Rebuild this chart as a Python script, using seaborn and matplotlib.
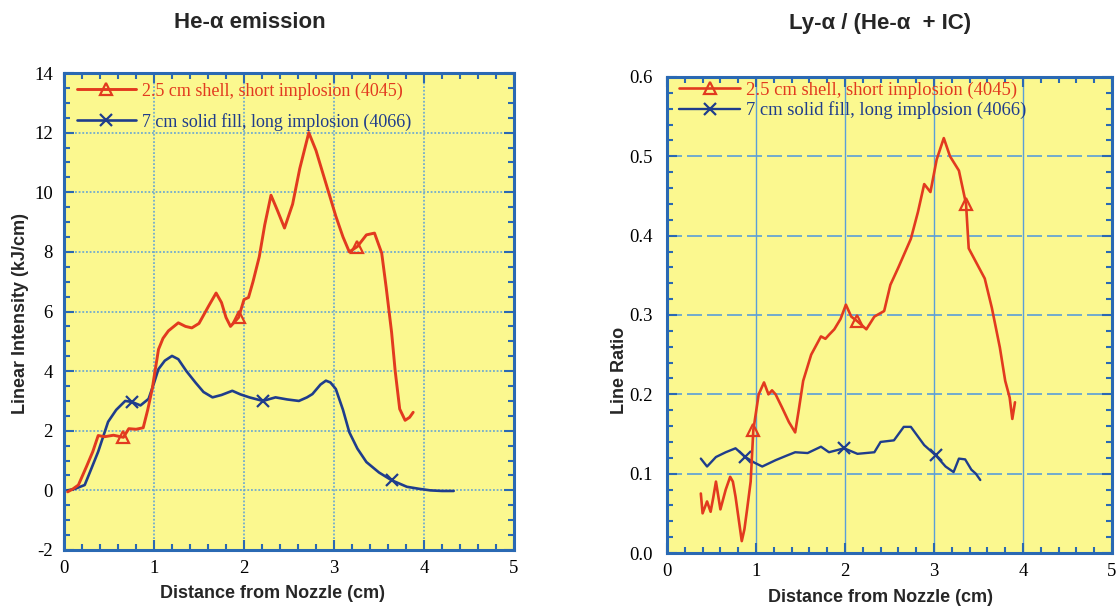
import numpy as np
import pandas as pd
import matplotlib
matplotlib.use("Agg")
import matplotlib.pyplot as plt
from matplotlib.ticker import MultipleLocator
import seaborn as sns

# ---------------- data ----------------
# He-alpha emission (left panel)
he_red_x = [0.04, 0.10, 0.16, 0.25, 0.32, 0.38, 0.45, 0.55, 0.66, 0.72, 0.80, 0.88, 0.93, 0.98,
            1.05, 1.10, 1.16, 1.27, 1.35, 1.42, 1.50, 1.61, 1.69, 1.75, 1.80, 1.85, 1.94, 2.00,
            2.05, 2.10, 2.17, 2.23, 2.30, 2.37, 2.45, 2.54, 2.62, 2.72, 2.80, 2.91, 3.02, 3.10,
            3.17, 3.26, 3.36, 3.45, 3.53, 3.58, 3.64, 3.68, 3.73, 3.79, 3.84, 3.88]
he_red_y = [-0.05, 0.05, 0.18, 0.80, 1.30, 1.84, 1.80, 1.85, 1.78, 2.07, 2.05, 2.10, 2.70, 3.40,
            4.73, 5.10, 5.35, 5.62, 5.50, 5.45, 5.60, 6.20, 6.62, 6.30, 5.80, 5.50, 5.80, 6.40,
            6.47, 7.00, 7.84, 8.90, 9.90, 9.40, 8.80, 9.60, 10.8, 12.0, 11.4, 10.3, 9.20, 8.50,
            8.00, 8.18, 8.57, 8.63, 7.96, 6.80, 5.30, 4.00, 2.73, 2.35, 2.45, 2.62]
he_red_markers = [0.66, 1.94, 3.26]

he_blue_x = [0.04, 0.12, 0.23, 0.30, 0.38, 0.49, 0.58, 0.68, 0.75, 0.85, 0.94, 1.00, 1.05, 1.12,
             1.20, 1.27, 1.36, 1.46, 1.55, 1.65, 1.75, 1.87, 1.96, 2.06, 2.21, 2.35, 2.48, 2.61,
             2.70, 2.76, 2.85, 2.91, 2.96, 3.02, 3.10, 3.17, 3.26, 3.36, 3.50, 3.64, 3.81, 3.95,
             4.07, 4.20, 4.33]
he_blue_y = [0.00, 0.05, 0.18, 0.70, 1.30, 2.30, 2.70, 3.00, 2.97, 2.85, 3.07, 3.60, 4.07, 4.35,
             4.51, 4.40, 4.00, 3.62, 3.30, 3.12, 3.20, 3.34, 3.22, 3.12, 3.00, 3.12, 3.05, 3.00,
             3.12, 3.23, 3.55, 3.68, 3.62, 3.40, 2.70, 1.95, 1.40, 0.95, 0.60, 0.34, 0.12, 0.05,
             0.00, -0.02, -0.02]
he_blue_markers = [0.75, 2.21, 3.64]

# Line ratio (right panel)
lr_red_x = [0.38, 0.40, 0.45, 0.49, 0.52, 0.55, 0.60, 0.66, 0.71, 0.74, 0.77, 0.84, 0.87, 0.90,
            0.94, 0.97, 1.03, 1.09, 1.14, 1.18, 1.22, 1.29, 1.37, 1.44, 1.48, 1.53, 1.62, 1.73,
            1.78, 1.82, 1.88, 1.95, 2.01, 2.07, 2.14, 2.24, 2.33, 2.44, 2.51, 2.60, 2.74, 2.82,
            2.89, 2.96, 3.03, 3.11, 3.18, 3.28, 3.36, 3.39, 3.48, 3.57, 3.65, 3.74, 3.80, 3.85,
            3.88, 3.91]
lr_red_y = [0.075, 0.050, 0.065, 0.052, 0.070, 0.090, 0.055, 0.080, 0.096, 0.090, 0.071, 0.015,
            0.030, 0.055, 0.090, 0.155, 0.200, 0.215, 0.200, 0.205, 0.200, 0.184, 0.165, 0.152,
            0.180, 0.217, 0.250, 0.273, 0.270, 0.275, 0.282, 0.295, 0.313, 0.298, 0.292, 0.282,
            0.298, 0.305, 0.338, 0.360, 0.396, 0.430, 0.465, 0.455, 0.496, 0.523, 0.500, 0.482,
            0.440, 0.384, 0.365, 0.346, 0.309, 0.259, 0.217, 0.196, 0.169, 0.190]
lr_red_markers = [0.97, 2.14, 3.36]

lr_blue_x = [0.38, 0.45, 0.55, 0.66, 0.77, 0.88, 0.98, 1.07, 1.22, 1.35, 1.44, 1.58, 1.73, 1.82,
             1.99, 2.14, 2.33, 2.40, 2.55, 2.66, 2.74, 2.89, 3.02, 3.13, 3.22, 3.28, 3.35, 3.42,
             3.47, 3.52]
lr_blue_y = [0.119, 0.109, 0.121, 0.127, 0.132, 0.121, 0.114, 0.109, 0.117, 0.123, 0.127, 0.126,
             0.134, 0.127, 0.132, 0.125, 0.127, 0.140, 0.142, 0.159, 0.159, 0.136, 0.123, 0.109,
             0.102, 0.119, 0.118, 0.105, 0.100, 0.092]
lr_blue_markers = [0.88, 1.99, 3.02]

label_red = "2.5 cm shell, short implosion (4045)"
label_blue = "7 cm solid fill, long implosion (4066)"

# ---------------- style ----------------
RED = "#e23a1f"
BLUE = "#1f3d8c"
SPINE = "#2a69b3"
YELLOW = "#fbf88f"
GRID = "#5a9fd8"

sns.set_style("ticks")
plt.rcParams["font.family"] = ["Liberation Serif", "DejaVu Serif"]
plt.rcParams["axes.unicode_minus"] = False
SANS = ["Liberation Sans", "DejaVu Sans"]

fig = plt.figure(figsize=(11.16, 6.11), dpi=100)
axL = fig.add_axes([64 / 1116, 1 - 550 / 611, 450 / 1116, 477 / 611])
axR = fig.add_axes([667 / 1116, 1 - 553 / 611, 445 / 1116, 476 / 611])


def idx_of(xs, marks):
    arr = np.asarray(xs)
    return [int(np.argmin(np.abs(arr - m))) for m in marks]


def draw(ax, rx, ry, rm, bx, by, bm, lw_r, lw_b):
    dr = pd.DataFrame({"x": rx, "y": ry})
    db = pd.DataFrame({"x": bx, "y": by})
    sns.lineplot(data=dr, x="x", y="y", ax=ax, color=RED, lw=lw_r, sort=False,
                 estimator=None, marker="^", markevery=idx_of(rx, rm), ms=8,
                 mfc="none", mec=RED, mew=1.6, label=label_red, zorder=4)
    sns.lineplot(data=db, x="x", y="y", ax=ax, color=BLUE, lw=lw_b, sort=False,
                 estimator=None, marker="x", markevery=idx_of(bx, bm), ms=9,
                 mec=BLUE, mew=1.6, label=label_blue, zorder=3)


draw(axL, he_red_x, he_red_y, he_red_markers, he_blue_x, he_blue_y, he_blue_markers, 2.1, 1.9)
draw(axR, lr_red_x, lr_red_y, lr_red_markers, lr_blue_x, lr_blue_y, lr_blue_markers, 1.9, 1.7)

for ax in (axL, axR):
    ax.set_facecolor(YELLOW)
    ax.set_xlim(0, 5)
    ax.xaxis.set_major_locator(MultipleLocator(1))
    ax.xaxis.set_minor_locator(MultipleLocator(0.2))
    for s in ax.spines.values():
        s.set_color(SPINE)
        s.set_linewidth(2.2)
        s.set_visible(True)
    ax.tick_params(which="both", direction="in", top=True, right=True,
                   color=SPINE, width=1.5, labelsize=13.5, labelcolor="black")
    ax.tick_params(which="major", length=7)
    ax.tick_params(which="minor", length=4)
    ax.tick_params(axis="x", pad=7)
    ax.set_xlabel("")
    ax.set_ylabel("")
    ax.set_axisbelow(True)

# left axes specifics
axL.set_ylim(-2, 14)
axL.yaxis.set_major_locator(MultipleLocator(2))
axL.yaxis.set_minor_locator(MultipleLocator(0.5))
axL.tick_params(axis="y", pad=8)
axL.grid(True, which="major", color=GRID, ls=(0, (1.2, 1.2)), lw=1.1)

# right axes specifics
axR.set_ylim(0, 0.6)
axR.yaxis.set_major_locator(MultipleLocator(0.1))
axR.yaxis.set_minor_locator(MultipleLocator(0.02))
axR.yaxis.set_major_formatter(matplotlib.ticker.FormatStrFormatter("%.1f"))
axR.tick_params(axis="y", pad=10)
axR.xaxis.grid(True, which="major", color=GRID, ls="-", lw=1.0)
axR.yaxis.grid(True, which="major", color=GRID, ls=(0, (9, 3)), lw=1.2)

# legends
for ax, anchor, spacing, fs in ((axL, (0.028, 0.98), 0.72, 13.0),
                                (axR, (0.027, 0.99), 0.12, 13.4)):
    leg = ax.legend(loc="upper left", bbox_to_anchor=anchor, frameon=False,
                    fontsize=fs, handlelength=3.3, handletextpad=0.3,
                    labelspacing=spacing, borderpad=0, borderaxespad=0, numpoints=1)
    for txt, col in zip(leg.get_texts(), (RED, BLUE)):
        txt.set_color(col)

# titles and labels
fig.text(250 / 1116, 1 - 22 / 611, "He-α emission", ha="center", va="center",
         fontsize=16, fontweight="bold", family=SANS)
fig.text(880 / 1116, 1 - 24 / 611, "Ly-α / (He-α  + IC)", ha="center", va="center",
         fontsize=16, fontweight="bold", family=SANS)
fig.text(272 / 1116, 1 - 593 / 611, "Distance from Nozzle (cm)", ha="center", va="center",
         fontsize=13, fontweight="bold", family=SANS)
fig.text(880 / 1116, 1 - 597 / 611, "Distance from Nozzle (cm)", ha="center", va="center",
         fontsize=13, fontweight="bold", family=SANS)
fig.text(21 / 1116, 1 - 313 / 611, "Linear Intensity (kJ/cm)", ha="center", va="center",
         rotation=90, fontsize=13, fontweight="bold", family=SANS)
fig.text(620 / 1116, 1 - 370 / 611, "Line Ratio", ha="center", va="center",
         rotation=90, fontsize=13, fontweight="bold", family=SANS)

fig.savefig("out.png", dpi=100)
